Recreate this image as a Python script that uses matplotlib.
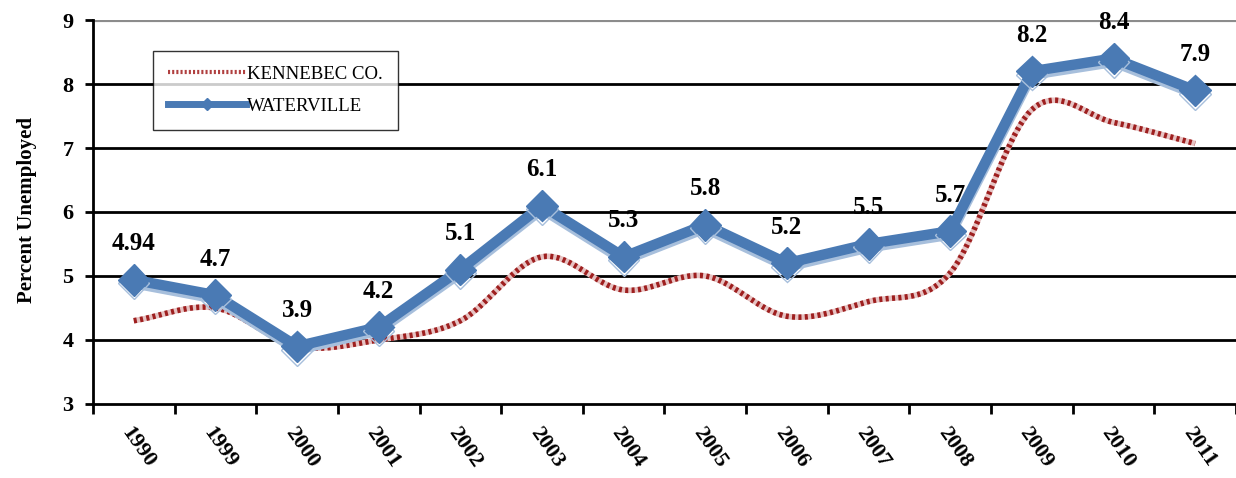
import numpy as np
import matplotlib
matplotlib.use('Agg')
from matplotlib import pyplot as plt
import matplotlib.patheffects as pe

years = ['1990', '1999', '2000', '2001', '2002', '2003', '2004',
         '2005', '2006', '2007', '2008', '2009', '2010', '2011']
kennebec = [4.3, 4.5, 3.9, 4.0, 4.3, 5.3, 4.78, 5.0, 4.37, 4.6, 5.05, 7.6, 7.4, 7.07]
waterville = [4.94, 4.7, 3.9, 4.2, 5.1, 6.1, 5.3, 5.8, 5.2, 5.5, 5.7, 8.2, 8.4, 7.9]
labels = ['4.94', '4.7', '3.9', '4.2', '5.1', '6.1', '5.3', '5.8', '5.2', '5.5', '5.7', '8.2', '8.4', '7.9']

serif = 'Liberation Serif'


def smooth(x, y, n=20):
    # catmull-rom, like excel's smoothed line
    x = np.asarray(x, float); y = np.asarray(y, float)
    px = np.concatenate([[2*x[0]-x[1]], x, [2*x[-1]-x[-2]]])
    py = np.concatenate([[2*y[0]-y[1]], y, [2*y[-1]-y[-2]]])
    xs, ys = [], []
    t = np.linspace(0, 1, n, endpoint=False)
    for i in range(1, len(px)-2):
        for p, out in ((px, xs), (py, ys)):
            p0, p1, p2, p3 = p[i-1], p[i], p[i+1], p[i+2]
            out.extend(0.5*((2*p1) + (-p0+p2)*t + (2*p0-5*p1+4*p2-p3)*t**2 + (-p0+3*p1-3*p2+p3)*t**3))
    xs.append(x[-1]); ys.append(y[-1])
    return np.array(xs), np.array(ys)


fig = plt.figure(figsize=(12.36, 4.78), dpi=100)
ax = fig.add_axes([0.0752, 0.155, 0.9248, 0.803])

x = np.arange(len(years))
sx, sy = smooth(x, kennebec)

ax.plot(sx, sy, color='#e6c3c3', lw=4, solid_capstyle='butt', zorder=3)
ax.plot(sx, sy, color='#9e1f1f', lw=4, dashes=(0.55, 0.6), solid_capstyle='butt', zorder=3)

shadow = [pe.SimpleLineShadow(offset=(0, -2.5), shadow_color='#a7bfdc', alpha=1), pe.Normal()]
ax.plot(x, waterville, color='#4a7ab4', lw=7.5, marker='D', ms=16, mec='#4a7ab4',
        zorder=4, path_effects=shadow)

# legend proxies
ax.plot([], [], color='#b04040', lw=3, dashes=(0.5, 0.5), label='KENNEBEC CO.')
ax.plot([], [], color='#4a7ab4', lw=5, marker='D', ms=6, label='WATERVILLE')
h, l = ax.get_legend_handles_labels()
leg = ax.legend(h[-2:], l[-2:], loc='upper left', bbox_to_anchor=(0.044, 0.945),
                frameon=True, fancybox=False, edgecolor='black', handlelength=4.2,
                handletextpad=0.05, borderpad=0.8, labelspacing=0.8,
                prop={'family': serif, 'size': 13.5})
leg.get_frame().set_linewidth(1.0)

for xi, v, t in zip(x, waterville, labels):
    ax.annotate(t, (xi, v), xytext=(0, 26), textcoords='offset points', ha='center',
                va='center', fontsize=18, fontweight='bold', family=serif, zorder=5)

ax.set_xlim(-0.5, len(years) - 0.5)
ax.set_ylim(3, 9)
ax.set_yticks(range(3, 10))
ax.set_yticklabels([str(v) for v in range(3, 10)], fontsize=16, fontweight='bold', family=serif)
ax.set_xticks(np.arange(len(years) + 1) - 0.5)
ax.set_xticklabels([])
ax.set_xticks(x, minor=True)
ax.set_xticklabels(years, minor=True, rotation=-55, ha='left', va='top', rotation_mode='anchor',
                   fontsize=16, fontweight='bold', family=serif)
ax.tick_params(axis='x', which='minor', length=0, pad=14)
ax.tick_params(axis='x', which='major', length=7, width=2, direction='out')
ax.tick_params(axis='y', length=6, width=2, direction='out', pad=8)

for yv in range(4, 9):
    ax.axhline(yv, color='black', lw=2, zorder=1)
ax.axhline(9, color='#8c8c8c', lw=3, zorder=1)

ax.spines['right'].set_visible(False)
ax.spines['top'].set_visible(False)
ax.spines['left'].set_linewidth(2)
ax.spines['bottom'].set_linewidth(2)

fig.text(0.022, 0.56, 'Percent Unemployed', rotation=90, ha='center', va='center',
         fontsize=15, fontweight='bold', family=serif)

fig.savefig('out.png', dpi=100)
